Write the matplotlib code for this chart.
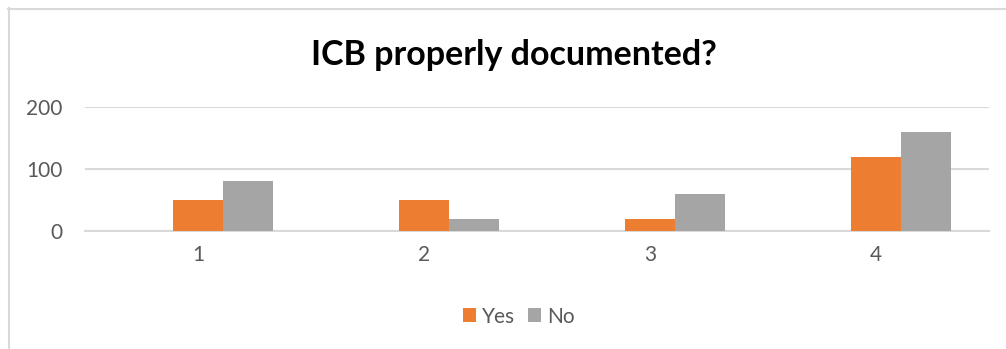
import matplotlib.pyplot as plt
import numpy as np
from matplotlib.lines import Line2D

categories = ["1", "2", "3", "4"]
yes_values = [50, 50, 20, 120]
no_values = [80, 20, 60, 160]
y_ticks = [0, 100, 200]

ORANGE = "#ED7D31"
GRAY = "#A5A5A5"
TEXT = "#595959"
GRID = "#D9D9D9"

plt.rcParams["font.family"] = ["Lato", "DejaVu Sans"]

fig = plt.figure(figsize=(10.06, 3.49), dpi=100)
ax = fig.add_axes([0.0845, 0.338, 0.8985, 0.355])

x = np.arange(len(categories))
w = 0.221
# Excel layout: an empty first slot, so Yes sits on the tick and No to its right
ax.bar(x, yes_values, w, color=ORANGE, label="Yes", zorder=3)
ax.bar(x + w, no_values, w, color=GRAY, label="No", zorder=3)

ax.set_xlim(-0.5, len(categories) - 0.5)
ax.set_ylim(0, 200)
ax.set_yticks(y_ticks)
ax.set_xticks(x)
ax.set_xticklabels(categories)
ax.tick_params(axis="both", length=0, labelsize=15, labelcolor=TEXT)
ax.tick_params(axis="y", pad=16)
ax.tick_params(axis="x", pad=10)
ax.yaxis.grid(True, color=GRID, lw=1.5, zorder=0)
ax.set_axisbelow(True)
for s in ax.spines.values():
    s.set_visible(False)
ax.axhline(0, color=GRID, lw=1.5, zorder=1, clip_on=False)

fig.text(0.511, 0.842, "ICB properly documented?", ha="center", va="center",
         fontsize=24.5, fontweight="bold", color="black")

ax.legend(loc="center", bbox_to_anchor=(0.516, 0.093), bbox_transform=fig.transFigure,
          ncol=2, frameon=False, fontsize=15, handlelength=0.62, handleheight=0.62,
          handletextpad=0.3, columnspacing=0.6, labelcolor=TEXT)

# chart border (top and left edges visible in the crop)
fig.add_artist(Line2D([8 / 1006, 1.0], [1 - 8.5 / 349] * 2, transform=fig.transFigure,
                      color=GRID, lw=1.5))
fig.add_artist(Line2D([8.5 / 1006] * 2, [0, 1 - 8 / 349], transform=fig.transFigure,
                      color=GRID, lw=1.5))

fig.savefig("out.png", dpi=100, facecolor="white")
